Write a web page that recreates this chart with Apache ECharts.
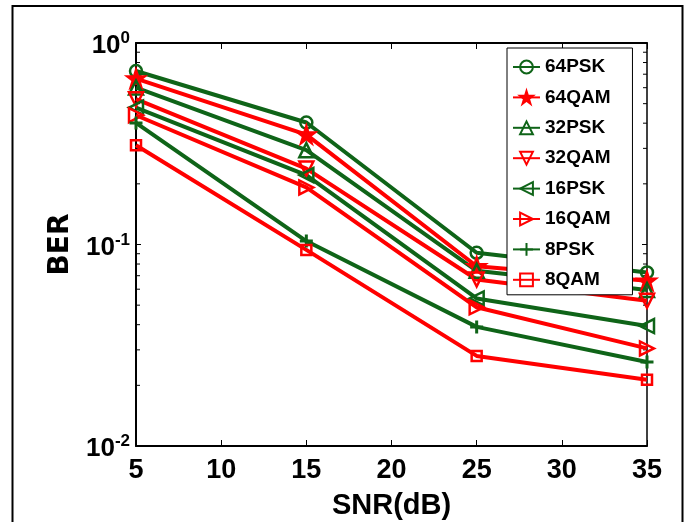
<!DOCTYPE html>
<html>
<head>
<meta charset="utf-8">
<script src="https://cdn.jsdelivr.net/npm/echarts@6/dist/echarts.min.js"></script>
<style>
  html, body { margin: 0; padding: 0; background: #fff; }
  #chart { width: 686px; height: 522px; }
</style>
</head>
<body>
<div id="chart"></div>
<script>
// SNR points (dB)
const snr = [5, 15, 25, 35];

// Bit error rate per modulation scheme
const ber64PSK = [0.726, 0.403, 0.091, 0.0727];
const ber64QAM = [0.666, 0.351, 0.078, 0.066];
const ber32PSK = [0.601, 0.294, 0.074, 0.0594];
const ber32QAM = [0.526, 0.238, 0.067, 0.0526];
const ber16PSK = [0.478, 0.221, 0.054, 0.0394];
const ber16QAM = [0.438, 0.192, 0.0488, 0.0305];
const ber8PSK  = [0.401, 0.104, 0.039, 0.0261];
const ber8QAM  = [0.311, 0.094, 0.028, 0.0213];

const seriesNames = ['64PSK', '64QAM', '32PSK', '32QAM', '16PSK', '16QAM', '8PSK', '8QAM'];
const xTicks = [5, 10, 15, 20, 25, 30, 35];

const GREEN = '#0f6418';
const RED = '#ff0000';
const SANS = "'Liberation Sans', Arial, sans-serif";
const NONE = 'rgba(255,255,255,0)';

const STAR = 'path://M50,0 L61.8,36.2 L100,36.2 L69.1,58.6 L80.9,95.1 L50,72.7 L19.1,95.1 L30.9,58.6 L0,36.2 L38.2,36.2 Z';
const PLUS = 'path://M0,50 L100,50 M50,0 L50,100';

function makeSeries(name, values, color, symbol, size, rotate, filled) {
  return {
    name: name,
    type: 'line',
    data: snr.map((x, i) => [x, values[i]]),
    symbol: symbol,
    symbolSize: size,
    symbolRotate: rotate,
    showAllSymbol: true,
    lineStyle: { color: color, width: 4 },
    itemStyle: {
      color: filled ? color : NONE,
      borderColor: color,
      borderWidth: symbol === PLUS ? 3 : 2.5
    },
    emphasis: { disabled: true },
    z: 3
  };
}

// Minor log ticks (2..9 in each decade)
const minorTicks = [];
for (let d = -2; d < 0; d++) {
  for (let m = 2; m <= 9; m++) minorTicks.push(m * Math.pow(10, d));
}

const chart = echarts.init(document.getElementById('chart'), null, { renderer: 'canvas' });

const series = [
  makeSeries('64PSK', ber64PSK, GREEN, 'circle', 12, 0, false),
  makeSeries('64QAM', ber64QAM, RED, STAR, 17, 0, true),
  makeSeries('32PSK', ber32PSK, GREEN, 'triangle', 14, 0, false),
  makeSeries('32QAM', ber32QAM, RED, 'triangle', 14, 180, false),
  makeSeries('16PSK', ber16PSK, GREEN, 'triangle', 14, 90, false),
  makeSeries('16QAM', ber16QAM, RED, 'triangle', 14, -90, false),
  makeSeries('8PSK', ber8PSK, GREEN, PLUS, 13, 0, false),
  makeSeries('8QAM', ber8QAM, RED, 'rect', 10, 0, false),
  {
    name: 'minor',
    type: 'custom',
    silent: true,
    clip: false,
    data: minorTicks.map(v => [5, v]),
    renderItem: function (params, api) {
      const l = api.coord([5, api.value(1)]);
      const r = api.coord([35, api.value(1)]);
      return {
        type: 'group',
        children: [
          { type: 'line', shape: { x1: l[0], y1: l[1], x2: l[0] + 4, y2: l[1] }, style: { stroke: '#000', lineWidth: 1 } },
          { type: 'line', shape: { x1: r[0], y1: r[1], x2: r[0] - 4, y2: r[1] }, style: { stroke: '#000', lineWidth: 1 } }
        ]
      };
    },
    z: 2
  }
];

const option = {
  backgroundColor: '#fff',
  animation: false,
  grid: { left: 136, right: 39, top: 43, bottom: 76, containLabel: false, outerBoundsMode: 'none' },
  graphic: [{
    type: 'rect',
    shape: { x: 12.5, y: 6, width: 670, height: 540 },
    style: { fill: 'none', stroke: '#000', lineWidth: 2 },
    silent: true
  }],
  legend: {
    data: seriesNames,
    orient: 'vertical',
    left: 507,
    top: 48,
    padding: [8, 22, 4, 5],
    itemWidth: 27,
    itemHeight: 16,
    itemGap: 8.4,
    backgroundColor: '#fff',
    borderColor: '#000',
    borderWidth: 1,
    textStyle: { fontFamily: SANS, fontWeight: 'bold', fontSize: 19, lineHeight: 22, color: '#000' },
    z: 10
  },
  xAxis: [{
    type: 'value',
    min: 5,
    max: 35,
    interval: 5,
    name: 'SNR(dB)',
    nameLocation: 'middle',
    nameGap: 45,
    nameTextStyle: { fontFamily: SANS, fontWeight: 'bold', fontSize: 29, color: '#000' },
    axisLine: { onZero: false, lineStyle: { color: '#000', width: 2 } },
    axisTick: { inside: true, length: 6, lineStyle: { color: '#000', width: 1 } },
    axisLabel: {
      margin: 11,
      color: '#000',
      fontFamily: SANS,
      fontWeight: 'bold',
      fontSize: 27,
      formatter: v => xTicks.includes(v) ? String(v) : ''
    },
    splitLine: { show: false }
  }, {
    type: 'value',
    position: 'top',
    min: 5,
    max: 35,
    interval: 5,
    axisLine: { onZero: false, lineStyle: { color: '#000', width: 2 } },
    axisTick: { inside: true, length: 6, lineStyle: { color: '#000', width: 1 } },
    axisLabel: { show: false },
    splitLine: { show: false }
  }],
  yAxis: [{
    type: 'log',
    logBase: 10,
    min: 0.01,
    max: 1,
    name: 'BER',
    nameLocation: 'middle',
    nameGap: 53,
    nameRotate: 90,
    nameTextStyle: { fontFamily: "'DejaVu Sans', sans-serif", fontWeight: 'bold', fontSize: 28, color: '#000' },
    axisLine: { onZero: false, lineStyle: { color: '#000', width: 2 } },
    axisTick: { inside: true, length: 5, lineStyle: { color: '#000', width: 1 } },
    axisLabel: {
      margin: 6,
      formatter: v => '{b|10}{s|' + Math.round(Math.log10(v)) + '}',
      rich: {
        b: { fontFamily: SANS, fontWeight: 'bold', fontSize: 26, lineHeight: 26, color: '#000', padding: [14, 0, 8, 0] },
        s: { fontFamily: SANS, fontWeight: 'bold', fontSize: 17, lineHeight: 17, color: '#000', verticalAlign: 'top' }
      }
    },
    splitLine: { show: false }
  }, {
    type: 'log',
    logBase: 10,
    min: 0.01,
    max: 1,
    position: 'right',
    axisLine: { onZero: false, lineStyle: { color: '#000', width: 1.5 } },
    axisTick: { inside: true, length: 5, lineStyle: { color: '#000', width: 1 } },
    axisLabel: { show: false },
    splitLine: { show: false }
  }],
  series: series
};

chart.setOption(option);
</script>
</body>
</html>
